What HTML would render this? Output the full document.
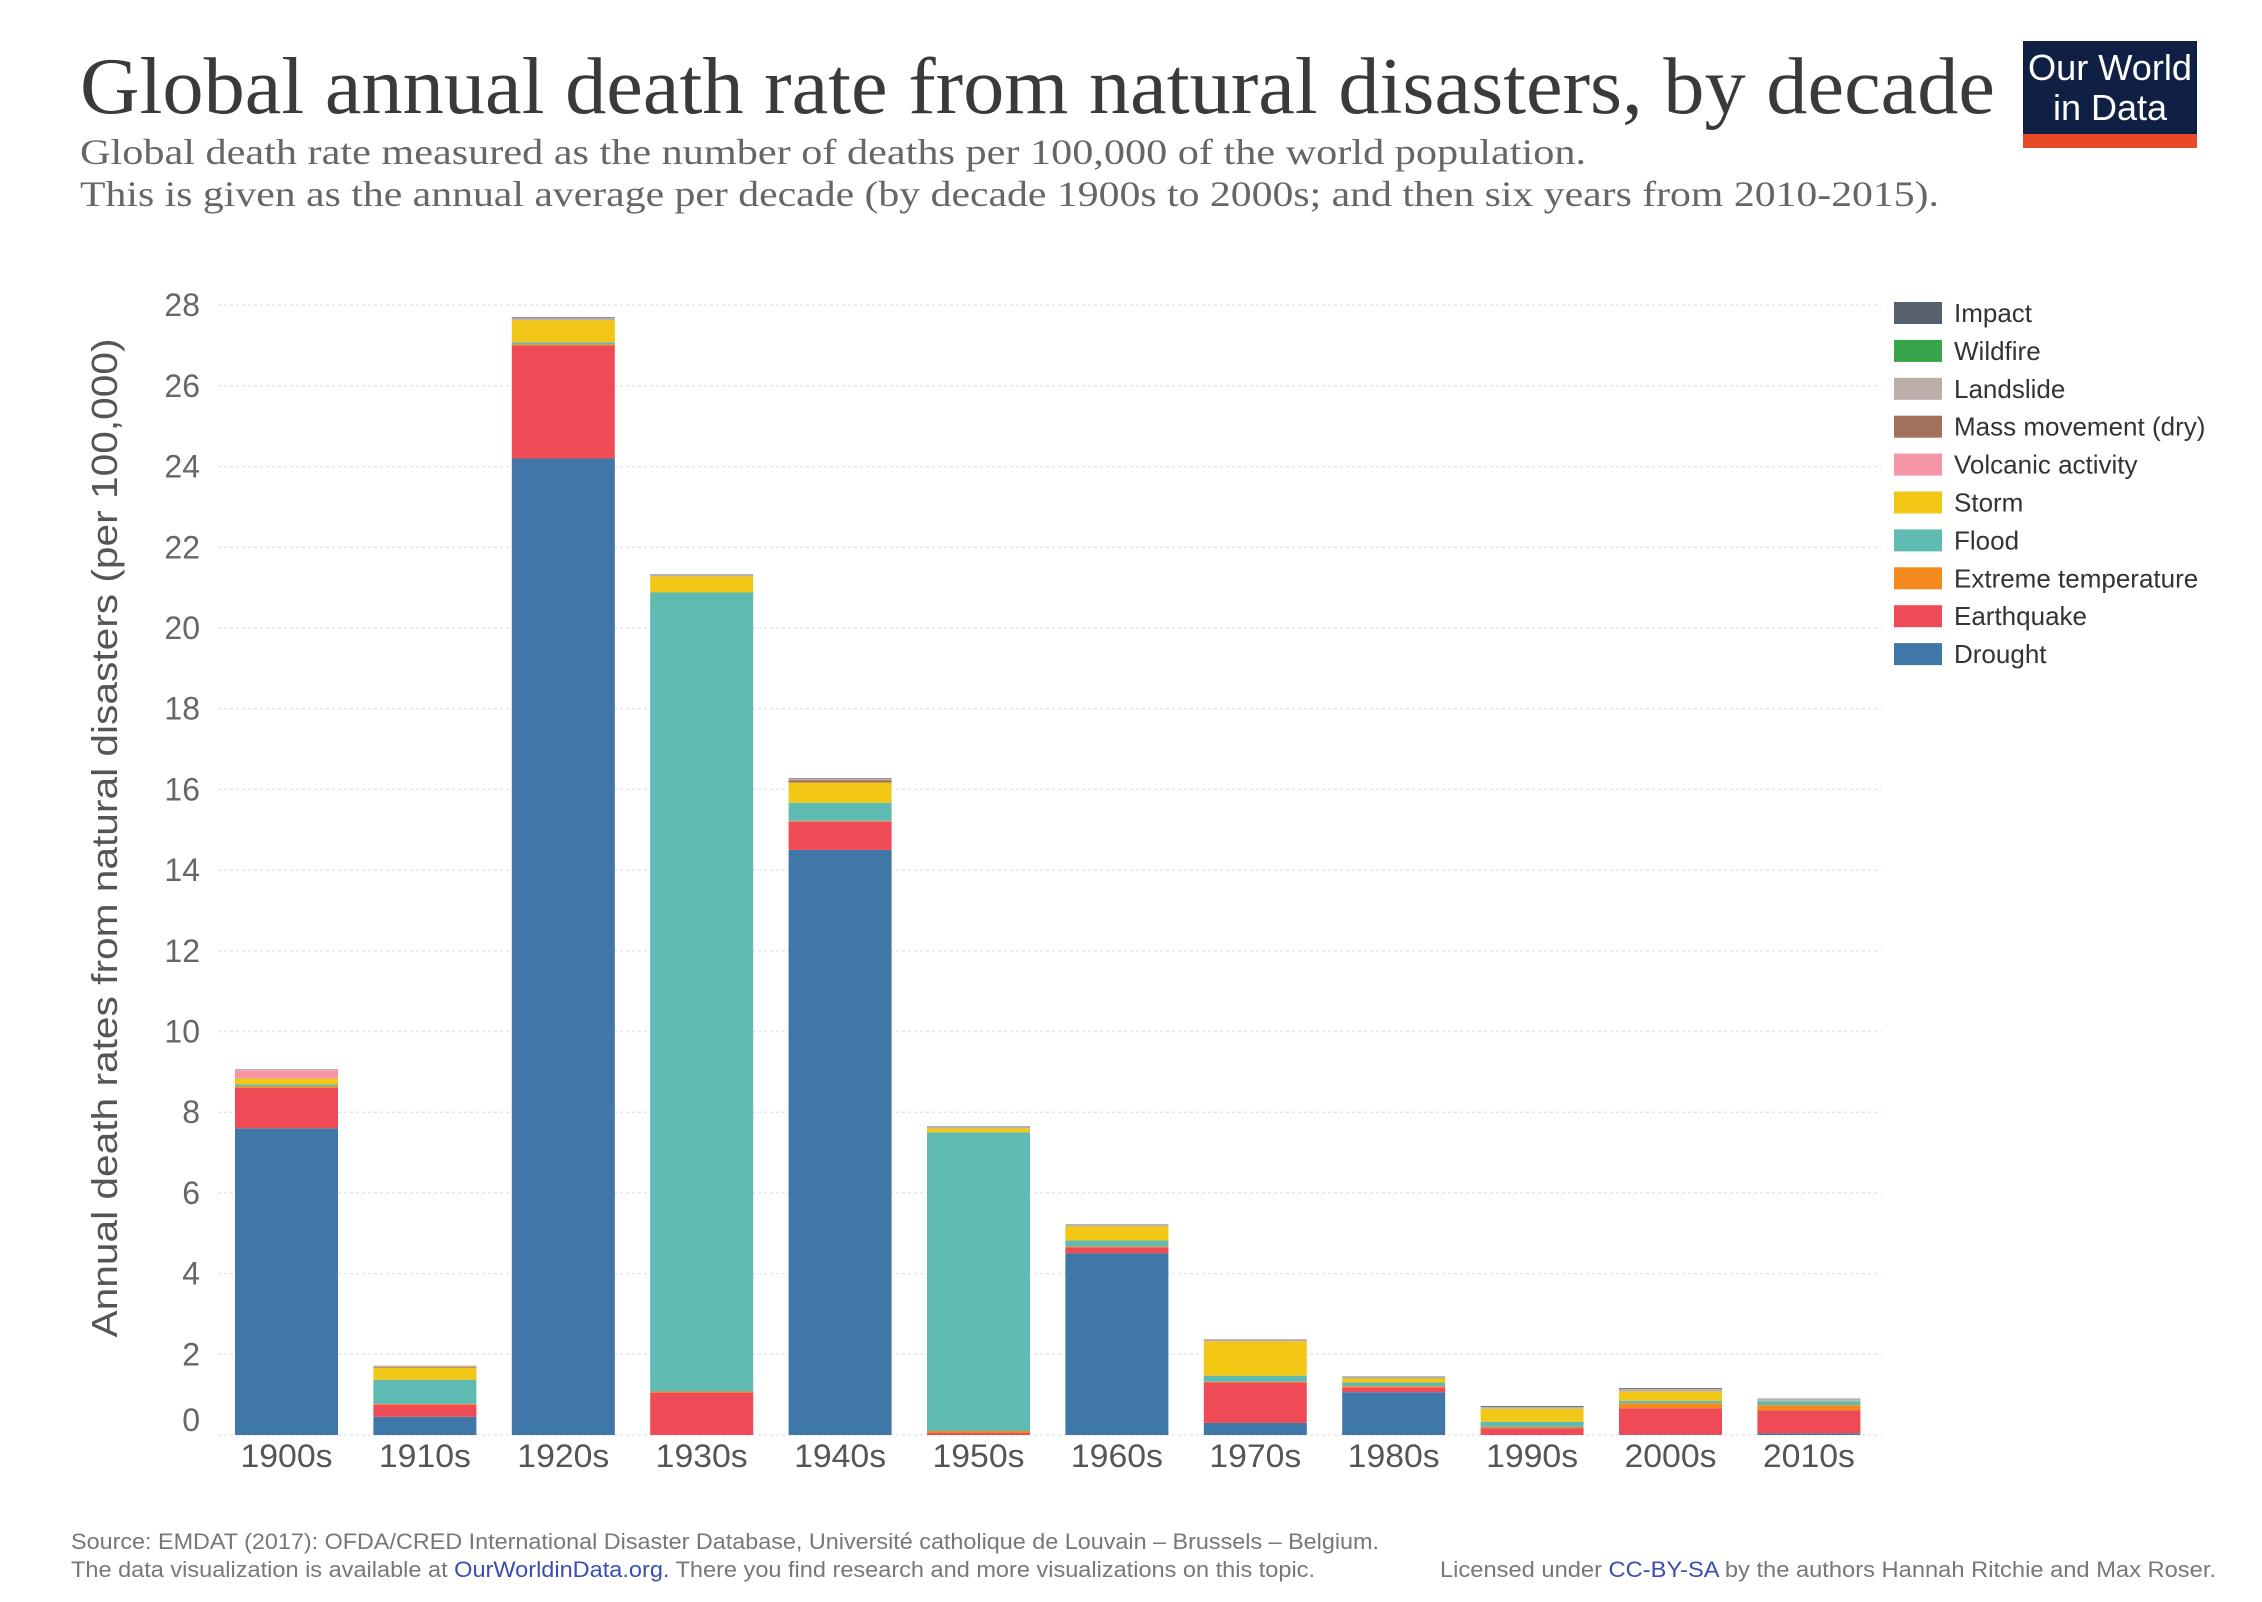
<!DOCTYPE html>
<html><head><meta charset="utf-8">
<style>
html,body{margin:0;padding:0;background:#fff;}
svg{display:block;}
</style></head>
<body>
<svg id="chart" width="2262" height="1602" viewBox="0 0 2262 1602" xmlns="http://www.w3.org/2000/svg">
  <text x="80" y="113" font-family="Liberation Serif, serif" font-size="80" fill="#3a3a3a" textLength="1915" lengthAdjust="spacingAndGlyphs">Global annual death rate from natural disasters, by decade</text>
  <text x="80" y="164" font-family="Liberation Serif, serif" font-size="36" fill="#666" textLength="1506" lengthAdjust="spacingAndGlyphs">Global death rate measured as the number of deaths per 100,000 of the world population.</text>
  <text x="80" y="206" font-family="Liberation Serif, serif" font-size="36" fill="#666" textLength="1859" lengthAdjust="spacingAndGlyphs">This is given as the annual average per decade (by decade 1900s to 2000s; and then six years from 2010-2015).</text>
  <g>
    <rect x="2023" y="41" width="174" height="107" fill="#0f2044"/>
    <rect x="2023" y="134" width="174" height="14" fill="#e84a27"/>
    <text x="2110" y="80" text-anchor="middle" font-family="Liberation Sans, sans-serif" font-size="36" fill="#fff" textLength="164" lengthAdjust="spacingAndGlyphs">Our World</text>
    <text x="2110" y="120" text-anchor="middle" font-family="Liberation Sans, sans-serif" font-size="36" fill="#fff">in Data</text>
  </g>
  <g id="grid"></g>
  <g id="yticks"></g>
  <g id="bars"></g>
  <g id="xticks"></g>
  <g id="legend"></g>
  <text transform="translate(117,838) rotate(-90)" text-anchor="middle" font-family="Liberation Sans, sans-serif" font-size="36" fill="#555" textLength="999" lengthAdjust="spacingAndGlyphs">Annual death rates from natural disasters (per 100,000)</text>
  <text x="71" y="1549" font-family="Liberation Sans, sans-serif" font-size="22" fill="#777" textLength="1308" lengthAdjust="spacingAndGlyphs">Source: EMDAT (2017): OFDA/CRED International Disaster Database, Université catholique de Louvain – Brussels – Belgium.</text>
  <text x="71" y="1577" font-family="Liberation Sans, sans-serif" font-size="22" fill="#777" textLength="1244" lengthAdjust="spacingAndGlyphs">The data visualization is available at <tspan fill="#3c4db1">OurWorldinData.org.</tspan> There you find research and more visualizations on this topic.</text>
  <text x="1440" y="1577" font-family="Liberation Sans, sans-serif" font-size="22" fill="#777" textLength="776" lengthAdjust="spacingAndGlyphs">Licensed under <tspan fill="#3c4db1">CC-BY-SA</tspan> by the authors Hannah Ritchie and Max Roser.</text>
</svg>
<script>
const decades = ["1900s","1910s","1920s","1930s","1940s","1950s","1960s","1970s","1980s","1990s","2000s","2010s"];
const seriesNames = ["Drought","Earthquake","Extreme temperature","Flood","Storm","Volcanic activity","Mass movement (dry)","Landslide","Wildfire","Impact"];
const seriesColors = ["#3f78a8","#ef4b57","#f4891e","#5fbab2","#f2c715","#f596a6","#a2705b","#bcaea8","#38a449","#56606e"];
const drought    = [7.6, 0.45, 24.2, 0,    14.5, 0,    4.5,  0.3,  1.06, 0,    0.01, 0.04];
const earthquake = [1.0, 0.3,  2.8,  1.05, 0.7,  0.05, 0.15, 1.0,  0.12, 0.17, 0.65, 0.57];
const extremeTemp= [0.04,0.02, 0.03, 0.03, 0.02, 0.05, 0.02, 0.02, 0.03, 0.03, 0.13, 0.13];
const flood      = [0.05,0.6,  0.05, 19.8, 0.45, 7.4,  0.15, 0.15, 0.09, 0.13, 0.06, 0.1];
const storm      = [0.15,0.3,  0.55, 0.4,  0.5,  0.1,  0.35, 0.85, 0.1,  0.32, 0.23, 0.01];
const volcanic   = [0.2, 0,    0,    0,    0,    0,    0,    0,    0,    0,    0,    0];
const massMove   = [0,   0.02, 0.01, 0,    0.06, 0,    0,    0,    0,    0,    0,    0];
const landslide  = [0.03,0.03, 0.04, 0.04, 0.04, 0.04, 0.04, 0.04, 0.04, 0.05, 0.06, 0.04];
const wildfire   = [0,   0,    0,    0,    0,    0,    0,    0,    0,    0,    0,    0];
const impact     = [0,   0,    0.02, 0.01, 0.01, 0.01, 0.01, 0.01, 0.01, 0.02, 0.02, 0.01];
const yTicks = [0,2,4,6,8,10,12,14,16,18,20,22,24,26,28];

const series = [drought,earthquake,extremeTemp,flood,storm,volcanic,massMove,landslide,wildfire,impact];
const NS = "http://www.w3.org/2000/svg";
const y0 = 1435, yPerUnit = 40.35;
function yScale(v){ return y0 - v*yPerUnit; }
const x0 = 235, step = 138.4, barW = 103;
function xScale(i){ return x0 + i*step; }
function mk(tag, attrs, parent){ const e=document.createElementNS(NS,tag); for(const k in attrs) e.setAttribute(k,attrs[k]); parent.appendChild(e); return e; }

const grid=document.getElementById('grid'), yt=document.getElementById('yticks');
yTicks.forEach(t=>{
  const l=mk('line',{x1:218,x2:1881,y1:yScale(t),y2:yScale(t),stroke:'#e6e6e6','stroke-width':1.5,'stroke-dasharray':'3,3'},grid);
  
  
  const tx=mk('text',{x:200,y:yScale(t)+(t===0?-4:11),'text-anchor':'end','font-family':'Liberation Sans, sans-serif','font-size':32,fill:'#666'},yt);
  tx.textContent=t;
  
  
});

const bars=document.getElementById('bars'), xt=document.getElementById('xticks');
decades.forEach((d,i)=>{
  let cum=0;
  series.forEach((s,k)=>{
    const v=s[i]; if(v<=0) return;
    const r=mk('rect',{x:xScale(i),y:yScale(cum+v),width:barW,height:v*yPerUnit,fill:seriesColors[k]},bars);
    
    
    cum+=v;
  });
  const tx=mk('text',{x:xScale(i)+barW/2,y:1467,'text-anchor':'middle','font-family':'Liberation Sans, sans-serif','font-size':32,fill:'#555',textLength:92,lengthAdjust:'spacingAndGlyphs'},xt);
  tx.textContent=d;
  
  
});

const lg=document.getElementById('legend');
for(let j=0;j<seriesNames.length;j++){
  const k=seriesNames.length-1-j;
  const cy=313+j*37.9;
  const g=mk('g',{},lg);
  
  
  mk('rect',{x:1894,y:cy-11,width:48,height:22,fill:seriesColors[k]},g);
  const t=mk('text',{x:1954,y:cy+9,'font-family':'Liberation Sans, sans-serif','font-size':26,fill:'#333'},g);
  t.textContent=seriesNames[k];
}
</script>
</body></html>
